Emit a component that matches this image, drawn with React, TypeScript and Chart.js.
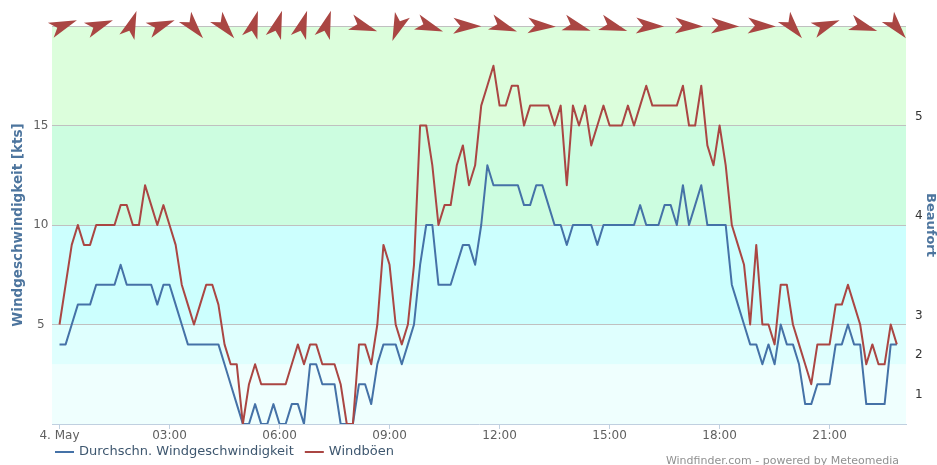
import React, { useEffect, useRef } from 'react';
import { Chart, registerables } from 'chart.js';

Chart.register(...registerables);

// --- data (10-minute samples starting 4. May 00:00) ---
const avgKts = [
  4, 4, 5, 6, 6, 6, 7, 7, 7, 7,
  8, 7, 7, 7, 7, 7, 6, 7, 7, 6,
  5, 4, 4, 4, 4, 4, 4, 3, 2, 1,
  0, 0, 1, 0, 0, 1, 0, 0, 1, 1,
  0, 3, 3, 2, 2, 2, 0, 0, 0, 2,
  2, 1, 3, 4, 4, 4, 3, 4, 5, 8,
  10, 10, 7, 7, 7, 8, 9, 9, 8, 10,
  13, 12, 12, 12, 12, 12, 11, 11, 12, 12,
  11, 10, 10, 9, 10, 10, 10, 10, 9, 10,
  10, 10, 10, 10, 10, 11, 10, 10, 10, 11,
  11, 10, 12, 10, 11, 12, 10, 10, 10, 10,
  7, 6, 5, 4, 4, 3, 4, 3, 5, 4,
  4, 3, 1, 1, 2, 2, 2, 4, 4, 5,
  4, 4, 1, 1, 1, 1, 4, 4,
];

const gustKts = [
  5, 7, 9, 10, 9, 9, 10, 10, 10, 10,
  11, 11, 10, 10, 12, 11, 10, 11, 10, 9,
  7, 6, 5, 6, 7, 7, 6, 4, 3, 3,
  0, 2, 3, 2, 2, 2, 2, 2, 3, 4,
  3, 4, 4, 3, 3, 3, 2, 0, 0, 4,
  4, 3, 5, 9, 8, 5, 4, 5, 8, 15,
  15, 13, 10, 11, 11, 13, 14, 12, 13, 16,
  17, 18, 16, 16, 17, 17, 15, 16, 16, 16,
  16, 15, 16, 12, 16, 15, 16, 14, 15, 16,
  15, 15, 15, 16, 15, 16, 17, 16, 16, 16,
  16, 16, 17, 15, 15, 17, 14, 13, 15, 13,
  10, 9, 8, 5, 9, 5, 5, 4, 7, 7,
  5, 4, 3, 2, 4, 4, 4, 6, 6, 7,
  6, 5, 3, 4, 3, 3, 5, 4,
];

const sampleStepMinutes = 10;
const sampleMinutes = avgKts.map((_, i) => i * sampleStepMinutes);

const seriesLabels = ['Durchschn. Windgeschwindigkeit', 'Windböen'];
const seriesColors = ['#4572A7', '#AA4643'];

const xTickMinutes = [0, 180, 360, 540, 720, 900, 1080, 1260];
const xTickLabels = ['4. May', '03:00', '06:00', '09:00', '12:00', '15:00', '18:00', '21:00'];

const ktsTicks = [0, 5, 10, 15, 20];
const ktsTickLabels = ['', '5', '10', '15', ''];

const beaufortKts = [1, 3, 5, 10, 15];
const beaufortLabels = ['1', '2', '3', '4', '5'];

const bandFrom = [0, 3, 5, 10, 15];
const bandTo = [3, 5, 10, 15, 20];
const bandColors = ['#effffe', '#dffffe', '#ccfffe', '#ccfde0', '#dcfedc'];

// wind direction arrows: time (minutes) and the bearing the arrow tip points to (deg)
const arrowMinutes = [4, 63, 117, 164, 218, 269, 317, 356, 397, 436, 495, 554, 603, 664, 724, 786, 844, 904, 963, 1027, 1086, 1146, 1198, 1252, 1313, 1368];
const arrowBearings = [69, 69, 20, 69, 140, 140, 17, 18, 18, 18, 109, 201, 110, 91, 110, 93, 107, 108, 92, 92, 92, 92, 140, 69, 108, 140];

const creditText = 'Windfinder.com - powered by Meteomedia';

const FONT = 'DejaVu Sans';

const bandsPlugin = {
  id: 'bands',
  beforeDraw(chart: any) {
    const { ctx, chartArea, scales } = chart;
    const y = scales.y;
    ctx.save();
    for (let i = 0; i < bandFrom.length; i++) {
      const top = y.getPixelForValue(bandTo[i]);
      const bottom = y.getPixelForValue(bandFrom[i]);
      ctx.fillStyle = bandColors[i];
      ctx.fillRect(chartArea.left, top, chartArea.right - chartArea.left, bottom - top);
    }
    ctx.restore();
  },
};

const arrowsPlugin = {
  id: 'arrows',
  afterDraw(chart: any) {
    const { ctx, chartArea, scales } = chart;
    const x = scales.x;
    ctx.save();
    ctx.fillStyle = '#AA4643';
    for (let i = 0; i < arrowMinutes.length; i++) {
      const px = x.getPixelForValue(arrowMinutes[i]);
      const py = chartArea.top;
      ctx.save();
      ctx.translate(px, py);
      ctx.rotate((arrowBearings[i] * Math.PI) / 180);
      ctx.beginPath();
      ctx.moveTo(0, -16);
      ctx.lineTo(8, 12);
      ctx.lineTo(0, 5);
      ctx.lineTo(-8, 12);
      ctx.closePath();
      ctx.fill();
      ctx.restore();
    }
    ctx.restore();
  },
};

const legendCreditsPlugin = {
  id: 'legendCredits',
  afterDraw(chart: any) {
    const { ctx } = chart;
    ctx.save();
    ctx.font = `13px "${FONT}"`;
    ctx.textBaseline = 'middle';
    ctx.textAlign = 'left';
    let x = 55;
    const y = 452;
    chart.data.datasets.forEach((ds: any) => {
      ctx.strokeStyle = ds.borderColor;
      ctx.lineWidth = 2;
      ctx.beginPath();
      ctx.moveTo(x, y);
      ctx.lineTo(x + 19, y);
      ctx.stroke();
      ctx.fillStyle = '#3E576F';
      ctx.fillText(ds.label, x + 24, y);
      x += 24 + ctx.measureText(ds.label).width + 11;
    });
    ctx.font = `11px "${FONT}"`;
    ctx.fillStyle = '#909090';
    ctx.textAlign = 'right';
    ctx.fillText(creditText, 899, 461);
    ctx.restore();
  },
};

export default function App() {
  const canvasRef = useRef<HTMLCanvasElement | null>(null);

  useEffect(() => {
    const canvas = canvasRef.current;
    if (!canvas) return;
    const chart = new Chart(canvas, {
      type: 'line',
      data: {
        datasets: [
          {
            label: seriesLabels[0],
            data: sampleMinutes.map((t, i) => ({ x: t, y: avgKts[i] })),
            borderColor: seriesColors[0],
            backgroundColor: seriesColors[0],
            borderWidth: 2,
            pointRadius: 0,
            tension: 0,
            borderJoinStyle: 'round',
            yAxisID: 'y',
            order: 1,
          },
          {
            label: seriesLabels[1],
            data: sampleMinutes.map((t, i) => ({ x: t, y: gustKts[i] })),
            borderColor: seriesColors[1],
            backgroundColor: seriesColors[1],
            borderWidth: 2,
            pointRadius: 0,
            tension: 0,
            borderJoinStyle: 'round',
            yAxisID: 'y',
            order: 0,
          },
        ],
      },
      options: {
        responsive: false,
        animation: false,
        events: [],
        layout: { padding: { top: 26, left: 0, right: 0, bottom: 0 } },
        plugins: {
          legend: { display: false },
          tooltip: { enabled: false },
        },
        scales: {
          x: {
            type: 'linear',
            min: -12.3,
            max: 1385,
            afterBuildTicks: (s: any) => {
              s.ticks = xTickMinutes.map((v) => ({ value: v }));
            },
            afterFit: (s: any) => {
              s.height = 41;
            },
            ticks: {
              autoSkip: false,
              maxRotation: 0,
              minRotation: 0,
              padding: 0,
              color: '#606060',
              font: { family: FONT, size: 12 },
              callback: (_v: any, i: number) => xTickLabels[i],
            },
            grid: {
              drawOnChartArea: false,
              drawTicks: true,
              tickLength: 5,
              tickColor: '#C0D0E0',
              tickWidth: 1,
            },
            border: { display: true, color: '#C0D0E0', width: 1 },
          },
          y: {
            position: 'left',
            min: 0,
            max: 20,
            afterBuildTicks: (s: any) => {
              s.ticks = ktsTicks.map((v) => ({ value: v }));
            },
            afterFit: (s: any) => {
              s.width = 52;
            },
            ticks: {
              crossAlign: 'center',
              padding: 3.5,
              color: '#606060',
              font: { family: FONT, size: 12 },
              callback: (_v: any, i: number) => ktsTickLabels[i],
            },
            grid: {
              drawTicks: false,
              lineWidth: 1,
              color: (c: any) => (c.tick && c.tick.value === 0 ? 'rgba(0,0,0,0)' : '#C0C0C0'),
            },
            border: { display: false },
            title: {
              display: true,
              text: 'Windgeschwindigkeit [kts]',
              color: '#4D759E',
              font: { family: FONT, size: 13.5, weight: 'bold' },
              padding: { top: 10, bottom: 0 },
            },
          },
          y2: {
            position: 'right',
            min: 0,
            max: 20,
            afterBuildTicks: (s: any) => {
              s.ticks = beaufortKts.map((v) => ({ value: v }));
            },
            afterFit: (s: any) => {
              s.width = 31;
            },
            ticks: {
              padding: 9,
              labelOffset: -9,
              color: '#333333',
              font: { family: FONT, size: 12 },
              callback: (_v: any, i: number) => beaufortLabels[i],
            },
            grid: { display: false, drawTicks: false },
            border: { display: false },
            title: {
              display: true,
              text: 'Beaufort',
              color: '#4D759E',
              font: { family: FONT, size: 13, weight: 'bold', lineHeight: 1 },
              padding: { top: 0, bottom: 0 },
            },
          },
        },
      } as any,
      plugins: [bandsPlugin, arrowsPlugin, legendCreditsPlugin],
    });
    return () => chart.destroy();
  }, []);

  return (
    <div style={{ position: 'absolute', left: 0, top: 0, width: 937, height: 465, background: '#ffffff' }}>
      <canvas ref={canvasRef} width={937} height={465} style={{ width: 937, height: 465, display: 'block' }} />
    </div>
  );
}
